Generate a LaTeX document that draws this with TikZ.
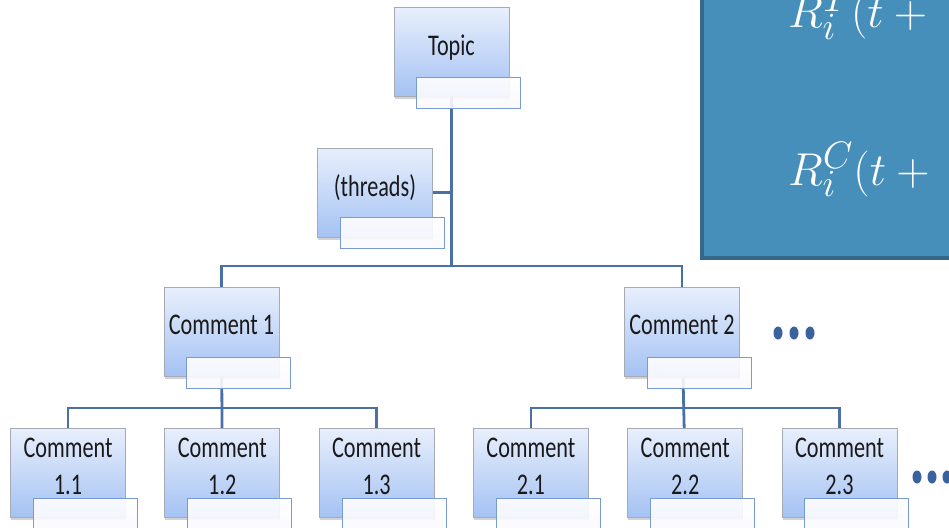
\documentclass[tikz,border=0pt]{standalone}
\usepackage{fontspec}
\newfontfamily\boxfont[FakeStretch=0.74]{Carlito}
\usetikzlibrary{positioning,shadows,backgrounds}
\definecolor{linkblue}{RGB}{74,112,166}
\definecolor{boxtop}{RGB}{232,239,252}
\definecolor{boxbottom}{RGB}{164,194,243}
\definecolor{boxedge}{RGB}{165,170,180}
\definecolor{tagedge}{RGB}{120,155,212}
\definecolor{panelblue}{RGB}{70,143,186}
\definecolor{paneledge}{RGB}{54,104,138}
\definecolor{dotblue}{RGB}{58,98,158}

\begin{document}
\begin{tikzpicture}[x=1pt, y=-1pt,
  cbox/.style={rectangle, draw=boxedge, line width=0.8pt, top color=boxtop, bottom color=boxbottom,
    minimum width=115pt, minimum height=89pt, inner sep=0pt, align=center,
    font=\boxfont\fontsize{30}{37}\selectfont, text=black!90,
    drop shadow={shadow xshift=0.5pt, shadow yshift=-2.5pt, opacity=0.35},
    execute at end node={\rule[-14pt]{0pt}{14pt}}},
  tag/.style={rectangle, draw=tagedge, line width=1pt, top color=white, bottom color=blue!2,
    fill opacity=0.9, minimum width=104pt, minimum height=31pt, inner sep=0pt, anchor=north east},
  link/.style={draw=linkblue, line width=2.8pt},
  formula/.style={anchor=base west, text=white, inner sep=0pt, font=\Huge},
  node distance=38.5pt]
  \path[use as bounding box] (0,0) rectangle (949,527);
  \clip (0,0) rectangle (949,527);

    % tree
    \node[cbox] (topic) at (451.5,52) {Topic};
    \node[cbox] (threads) at (375,192.5) {(threads)};
    \node[cbox] (c1) at (221.5,332) {Comment 1};
    \node[cbox] (c2) at (682,332) {Comment 2};
    \node[cbox] (c11) at (68,473) {Comment\\1.1};
    \node[cbox, right=of c11] (c12) {Comment\\1.2};
    \node[cbox, right=of c12] (c13) {Comment\\1.3};
    \node[cbox, right=of c13] (c21) {Comment\\2.1};
    \node[cbox, right=of c21] (c22) {Comment\\2.2};
    \node[cbox, right=of c22] (c23) {Comment\\2.3};

    \foreach \n in {topic,threads,c1,c2,c11,c12,c13,c21,c22,c23}
      \node[tag] (\n-tag) at ([shift={(12,-20)}]\n.south east) {};

    \begin{scope}[on background layer]
      \coordinate (bar1) at (451.5,266);
      \coordinate (bar2a) at (221.5,408);
      \coordinate (bar2b) at (682,408);
      \draw[link] (topic) -- (bar1);
      \draw[link] (threads) -- (threads -| topic);
      \draw[link] (c1) |- (bar1) -| (c2);
      \draw[link] (c1) -- (c12);
      \draw[link] (c11) |- (bar2a) -| (c13);
      \draw[link] (c2) -- (c22);
      \draw[link] (c21) |- (bar2b) -| (c23);
    \end{scope}

    % more siblings
    \foreach \x in {778,794,810} \fill[dotblue] (\x,333) ellipse (4.5 and 6.5);
    \foreach \x in {917,932,947} \fill[dotblue] (\x,477) ellipse (4.5 and 6.5);

    % panel
    \draw[paneledge, fill=panelblue, line width=4pt] (702,-20) rectangle (990,258);
    \node[formula] (rt) at (788,28) {\scalebox{1.85}{$R_i^T(t+{}$}};
    \node[formula] (rc) at (788,185) {\scalebox{1.85}{$R_i^C(t+{}$}};
\end{tikzpicture}
\end{document}
